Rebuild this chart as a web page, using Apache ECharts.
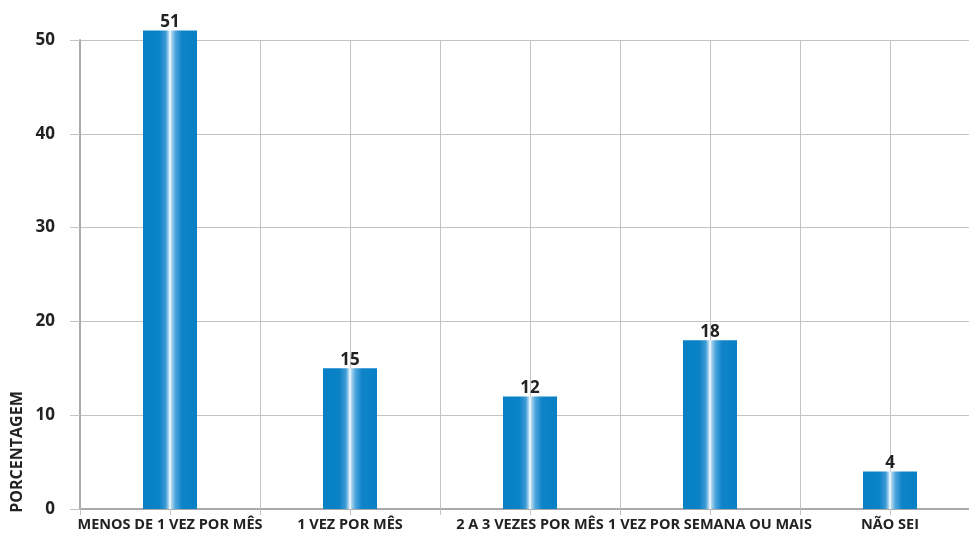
<!DOCTYPE html>
<html>
<head>
<meta charset="utf-8">
<script src="https://cdn.jsdelivr.net/npm/echarts@6/dist/echarts.min.js"></script>
<style>
  html, body { margin: 0; padding: 0; background: #fff; }
  #chart { width: 969px; height: 534px; }
</style>
</head>
<body>
<div id="chart"></div>
<script>
// Frequency categories and their percentages
const categories = ['MENOS DE 1 VEZ POR MÊS', '1 VEZ POR MÊS', '2 A 3 VEZES POR MÊS', '1 VEZ POR SEMANA OU MAIS', 'NÃO SEI'];
const values = [51, 15, 12, 18, 4];
const yTicks = [0, 10, 20, 30, 40, 50];
const yAxisTitle = 'PORCENTAGEM';

const FONT = '"Open Sans", sans-serif';
const TEXT = '#222';

// Half-category grid: two slots per category gives lines at bar centres and between bars
const halfSlots = [];
categories.forEach(() => { halfSlots.push(''); halfSlots.push(''); });

const barFill = new echarts.graphic.LinearGradient(0, 0, 1, 0, [
  { offset: 0, color: '#0880c6' },
  { offset: 0.3, color: '#0a82c7' },
  { offset: 0.42, color: '#3d9ad5' },
  { offset: 0.48, color: '#b5dcf3' },
  { offset: 0.5, color: '#ffffff' },
  { offset: 0.53, color: '#a9d4f0' },
  { offset: 0.6, color: '#4ea6dc' },
  { offset: 0.72, color: '#0f84c8' },
  { offset: 1, color: '#0880c6' }
]);

const chart = echarts.init(document.getElementById('chart'));
chart.setOption({
  animation: false,
  backgroundColor: '#fff',
  // the plot runs slightly past the right edge of the canvas
  grid: { left: 80, top: 40, width: 900, bottom: 25, containLabel: false, outerBoundsMode: 'none' },
  graphic: [{
    type: 'text',
    x: 17, y: 452,
    rotation: Math.PI / 2,
    style: {
      text: yAxisTitle,
      font: 'bold 16px ' + FONT,
      fill: TEXT,
      align: 'center',
      verticalAlign: 'middle'
    }
  }],
  xAxis: [{
    type: 'category',
    data: categories,
    boundaryGap: true,
    axisLine: { show: true, lineStyle: { color: '#aaaaaa', width: 2 } },
    axisTick: { show: false },
    splitLine: { show: false },
    axisLabel: {
      interval: 0,
      margin: 8,
      color: TEXT,
      fontFamily: FONT,
      fontWeight: 'bold',
      fontSize: 14.5
    }
  }, {
    type: 'category',
    data: halfSlots,
    position: 'bottom',
    boundaryGap: true,
    axisLine: { show: false },
    axisLabel: { show: false },
    axisTick: { show: true, length: 6, lineStyle: { color: '#c4c4c4', width: 1 } },
    splitLine: { show: true, lineStyle: { color: '#c4c4c4', width: 1 } }
  }],
  yAxis: {
    type: 'value',
    min: yTicks[0],
    max: yTicks[yTicks.length - 1],
    interval: 10,
    axisLine: { show: true, lineStyle: { color: '#aaaaaa', width: 2 } },
    axisTick: { show: true, length: 10, lineStyle: { color: '#c4c4c4', width: 1 } },
    splitLine: { show: true, lineStyle: { color: '#c4c4c4', width: 1 } },
    axisLabel: {
      margin: 25,
      color: TEXT,
      fontFamily: FONT,
      fontWeight: 'bold',
      fontSize: 17
    }
  },
  series: [{
    type: 'bar',
    xAxisIndex: 0,
    data: values,
    barWidth: 54,
    clip: false,
    itemStyle: { color: barFill },
    label: {
      show: true,
      position: 'top',
      distance: 0,
      color: TEXT,
      fontFamily: FONT,
      fontWeight: 'bold',
      fontSize: 17
    }
  }]
});
</script>
</body>
</html>
